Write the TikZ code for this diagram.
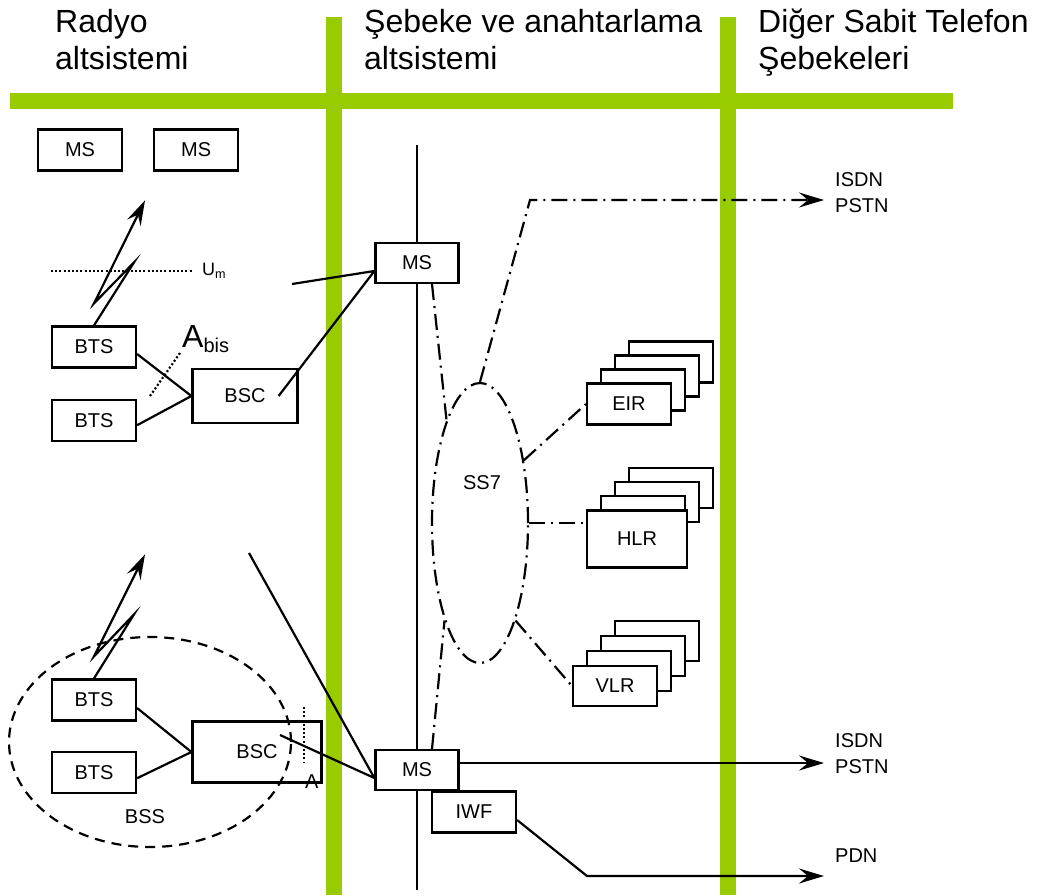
\documentclass[tikz,border=0pt]{standalone}
\usepackage{fontspec}
\setmainfont{Liberation Sans}
\usepackage{tikz}
\usetikzlibrary{positioning,shapes.geometric,arrows.meta}

\definecolor{barGreen}{RGB}{153,204,0}
\newcommand{\lblfont}{\fontsize{20}{26}\selectfont}
\newcommand{\headfont}{\fontsize{32}{37}\selectfont}
\newcommand{\umfont}{\fontsize{18}{20}\selectfont}
\newcommand{\abisfont}{\fontsize{32}{34}\selectfont}

\tikzset{
  box/.style={draw, line width=2.2pt, fill=white, inner sep=0pt,
              minimum width=84pt, minimum height=41pt, font=\lblfont},
  link/.style={line width=2.2pt},
  sig/.style={line width=2.2pt, dash pattern=on 16pt off 6pt on 2pt off 6pt},
  dots/.style={line width=2.2pt, dash pattern=on 2pt off 2.2pt},
  lbl/.style={inner sep=0pt, font=\lblfont, align=left},
  head/.style={inner sep=0pt, anchor=north west, align=left, font=\headfont},
  bar/.style={barGreen, line width=16pt}
}

\begin{document}
\begin{tikzpicture}[x=1pt, y=-1pt, >={Stealth[length=25pt,width=15pt,inset=9pt]}]
  \useasboundingbox (0,0) rectangle (1040,895);

  %--- Green separators
  \draw[bar] (10,101) -- (953,101);
  \draw[bar] (334,17) -- (334,895);
  \draw[bar] (728,17) -- (728,895);

  %--- Headings
  \node[head] (radio) at (55,9) {Radyo\\altsistemi};
  \node[head] (core) at (364,9) {Şebeke ve anahtarlama\\altsistemi};
  \node[head] (fixed) at (758,9) {Diğer Sabit Telefon\\Şebekeleri};

  %--- Switching backbone
  \coordinate (bb-top) at (417,145);
  \coordinate (bb-bot) at (417,890);
  \draw[link] (bb-top) -- (bb-bot);

  %--- Mobile stations
  \node[box] (ms1) at (80,150) {MS};
  \node[box, right=30pt of ms1] (ms2) {MS};

  %--- Upper BSS
  \node[box] (bts1) at (94,347) {BTS};
  \node[box, below=30pt of bts1] (bts2) {BTS};
  \node[box, minimum width=105pt, minimum height=54pt] (bsc1) at (245,396) {BSC};

  %--- Lower BSS
  \node[box] (bts3) at (94,700) {BTS};
  \node[box, below=29pt of bts3] (bts4) {BTS};
  \node[box, minimum width=129pt, minimum height=61pt] (bsc2) at (257,752) {BSC};

  %--- Switching centres
  \node[box, minimum width=83pt, minimum height=40pt] (msc1) at (417,263) {MS};
  \node[box, minimum width=83pt, minimum height=40pt] (msc2) at (417,770) {MS};
  \node[box] (iwf) at (474,812) {IWF};

  %--- Databases (stacked)
  \foreach \k in {3,2,1}
    \node[box] (eir\k) at (629+14*\k, 404-14*\k) {};
  \node[box] (eir) at (629,404) {EIR};

  \foreach \k in {3,2,1}
    \node[box, minimum height=40pt] (hlr\k) at (629+14*\k, 530-14*\k) {};
  \node[box, minimum width=100pt, minimum height=57pt] (hlr) at (637,539) {HLR};

  \foreach \k in {3,2,1}
    \node[box, minimum height=40pt] (vlr\k) at (615+14*\k, 686-15*\k) {};
  \node[box, minimum height=40pt] (vlr) at (615,686) {VLR};

  %--- Signalling network
  \node[draw, ellipse, sig, inner sep=0pt,
        minimum width=96pt, minimum height=280pt] (ss7) at (480,523) {};
  \node[lbl] (ss7lbl) at (482,483) {SS7};

  %--- BSS boundary
  \node[draw, ellipse, line width=2.2pt, dash pattern=on 10pt off 7pt,
        minimum width=282pt, minimum height=210pt] (bss) at (150,742) {};
  \node[lbl] (bsslbl) at (145,817) {BSS};

  %--- Radio links
  \draw[link,->] (bts1.north) -- ++(40,-63) -- ++(-40,41) -- ++(51,-103);
  \draw[link,->] (bts3.north) -- ++(40,-64) -- ++(-40,42) -- ++(51,-102);

  %--- Air interface
  \coordinate (um-l) at (51,271);
  \coordinate (um-r) at (193,271);
  \draw[dots] (um-l) -- (um-r);
  \node[lbl, font=\umfont, right=9pt of um-r] (um) {U\textsubscript{m}};

  %--- Abis interface
  \coordinate (abis-lo) at (150,396);
  \coordinate (abis-hi) at (180,353);
  \draw[dots] (abis-lo) -- (abis-hi);
  \node[inner sep=0pt, anchor=base west, font=\abisfont] (abis) at (182,347)
    {A\textsubscript{\fontsize{20}{20}\selectfont bis}};

  %--- A interface
  \coordinate (a-hi) at (304,707);
  \coordinate (a-lo) at (304,763);
  \draw[dots] (a-hi) -- (a-lo);
  \node[lbl, below right=12pt and 1pt of a-lo] (alabel) {A};

  %--- BTS to BSC
  \draw[link] ([yshift=-7pt]bts1.east) -- (bsc1.west);
  \draw[link] ([yshift=-5pt]bts2.east) -- (bsc1.west);
  \draw[link] ([yshift=-8pt]bts3.east) -- (bsc2.west);
  \draw[link] ([yshift=-6pt]bts4.east) -- (bsc2.west);

  %--- BSC to MSC
  \coordinate (stub1) at (292,284);
  \coordinate (stub2) at (249,553);
  \draw[link] ([xshift=-20pt]bsc1.east) -- ([yshift=-8pt]msc1.west) -- (stub1);
  \draw[link] (stub2) -- ([yshift=-8pt]msc2.west) -- ([shift={(23,-17)}]bsc2.center);

  %--- SS7 signalling
  \coordinate (sig-bend) at (530,200);
  \coordinate (isdn1-in) at (824,200);
  \draw[sig] ([xshift=15pt]msc1.south) -- (ss7.108);
  \draw[sig] ([xshift=15pt]msc2.north) -- (ss7.250);
  \draw[sig,->] (ss7.north) -- (sig-bend) -- (isdn1-in);
  \draw[sig] (ss7.55) -- (eir.west);
  \draw[sig] (ss7.east) -- (ss7.east -| hlr.west);
  \draw[sig] (ss7.290) -- (vlr.west);

  %--- Outgoing trunks
  \coordinate (isdn2-in) at (824,763);
  \coordinate (pdn-bend) at (587,876);
  \coordinate (pdn-in) at (824,876);
  \draw[link,->] ([yshift=7pt]msc2.east) -- (isdn2-in);
  \draw[link,->] ([yshift=-8pt]iwf.east) -- (pdn-bend) -- (pdn-in);

  \node[lbl, right=11pt of isdn1-in, yshift=7pt] (isdn1) {ISDN\\PSTN};
  \node[lbl, right=11pt of isdn2-in, yshift=9pt] (isdn2) {ISDN\\PSTN};
  \node[lbl, above right=13pt and 11pt of pdn-in] (pdn) {PDN};

\end{tikzpicture}
\end{document}
